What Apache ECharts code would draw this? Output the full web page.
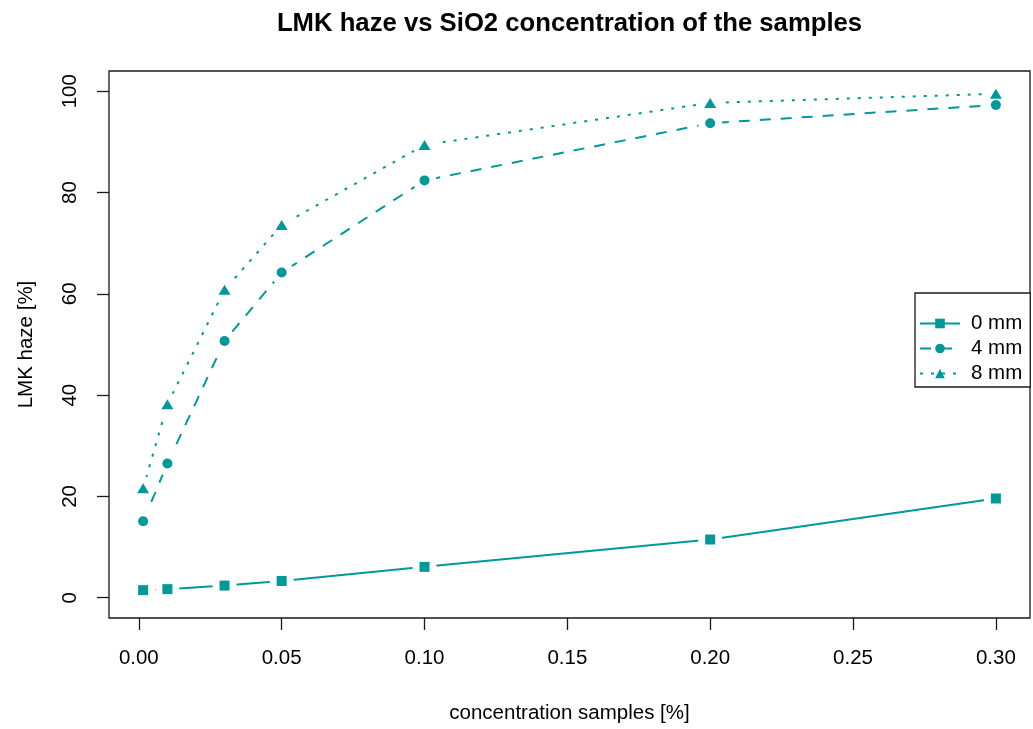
<!DOCTYPE html>
<html>
<head>
<meta charset="utf-8">
<title>LMK haze vs SiO2 concentration</title>
<script src="https://cdn.jsdelivr.net/npm/echarts@6/dist/echarts.min.js"></script>
<style>
  html, body { margin: 0; padding: 0; background: #fff; }
  #chart { width: 1033px; height: 729px; }
</style>
</head>
<body>
<div id="chart"></div>
<script>
// SiO2 concentration of each sample [%]
const concentration = [0.0015, 0.01, 0.03, 0.05, 0.10, 0.20, 0.30];
// LMK haze [%] measured at three sample thicknesses
const haze0mm = [1.5, 1.7, 2.4, 3.3, 6.1, 11.5, 19.6];
const haze4mm = [15.1, 26.5, 50.7, 64.2, 82.4, 93.7, 97.3];
const haze8mm = [21.6, 38.2, 60.8, 73.6, 89.4, 97.7, 99.5];
const seriesNames = ['0 mm', '4 mm', '8 mm'];
// tick positions
const xTicks = [0, 0.05, 0.10, 0.15, 0.20, 0.25, 0.30];
const yTicks = [0, 20, 40, 60, 80, 100];

const FONT = "'Liberation Sans', Arial, sans-serif";
const TEAL = '#009999';
const INK = '#1a1a1a';

// axis ranges padded 4% beyond the data, base-graphics style
const xLo = concentration[0], xHi = concentration[concentration.length - 1];
const xPad = 0.04 * (xHi - xLo);
const yLo = 0, yHi = 100, yPad = 0.04 * (yHi - yLo);

const pairs = ys => concentration.map((x, i) => [x, ys[i]]);

const groups = [
  { name: seriesNames[0], ys: haze0mm, symbol: 'rect', size: 10, dash: 'solid' },
  { name: seriesNames[1], ys: haze4mm, symbol: 'circle', size: 10, dash: [11, 10] },
  { name: seriesNames[2], ys: haze8mm, symbol: 'triangle', size: [12, 10], dash: [3, 8] }
];

// connecting lines (the symbol is kept for the legend icon)
const lineSeries = groups.map(g => ({
  name: g.name,
  type: 'line',
  data: pairs(g.ys),
  symbol: g.symbol,
  symbolSize: g.size,
  showSymbol: false,
  lineStyle: { color: TEAL, width: 2, type: g.dash },
  itemStyle: { color: TEAL, opacity: 1 },
  emphasis: { disabled: true },
  silent: true,
  z: 2
}));

// white discs that open a small gap in the line around every point
const haloSeries = groups.map(g => ({
  name: g.name + ' gap',
  type: 'scatter',
  data: pairs(g.ys),
  symbol: 'circle',
  symbolSize: 24,
  itemStyle: { color: '#fff', opacity: 1 },
  emphasis: { disabled: true },
  silent: true,
  z: 3
}));

// the plotted points
const pointSeries = groups.map(g => ({
  name: g.name + ' points',
  type: 'scatter',
  data: pairs(g.ys),
  symbol: g.symbol,
  symbolSize: g.size,
  itemStyle: { color: TEAL, opacity: 1 },
  emphasis: { disabled: true },
  silent: true,
  z: 4
}));

const axisText = { fontFamily: FONT, fontSize: 20.5, color: '#000' };

const chart = echarts.init(document.getElementById('chart'), null, { renderer: 'canvas' });
chart.setOption({
  backgroundColor: '#fff',
  animation: false,
  title: {
    text: 'LMK haze vs SiO2 concentration of the samples',
    left: 564.5,
    textAlign: 'center',
    top: 6,
    textStyle: { fontFamily: FONT, fontSize: 25.7, fontWeight: 'bold', color: '#000' }
  },
  grid: {
    left: 109, top: 71, width: 921, height: 547,
    show: true, borderColor: INK, borderWidth: 1.3, backgroundColor: 'transparent'
  },
  legend: {
    orient: 'vertical',
    left: 915, top: 293,
    data: seriesNames,
    itemWidth: 40, itemHeight: 12, itemGap: 4,
    padding: [20, 8, 3, 4],
    borderColor: INK, borderWidth: 1.3,
    backgroundColor: '#fff',
    textStyle: { fontFamily: FONT, fontSize: 20.5, color: '#000', padding: [0, 0, 0, 6] }
  },
  xAxis: {
    type: 'value',
    min: xLo - xPad, max: xHi + xPad,
    name: 'concentration samples [%]',
    nameLocation: 'middle', nameGap: 85, nameMoveOverlap: false,
    nameTextStyle: axisText,
    axisLine: { show: false, onZero: false },
    splitLine: { show: false },
    axisTick: { show: true, inside: false, length: 12, customValues: xTicks,
                lineStyle: { color: INK, width: 1.3 } },
    axisLabel: Object.assign({ customValues: xTicks, margin: 30, formatter: v => v.toFixed(2) }, axisText)
  },
  yAxis: {
    type: 'value',
    min: yLo - yPad, max: yHi + yPad,
    name: 'LMK haze [%]',
    nameLocation: 'middle', nameGap: 72, nameRotate: 90, nameMoveOverlap: false,
    nameTextStyle: axisText,
    axisLine: { show: false, onZero: false },
    splitLine: { show: false },
    axisTick: { show: true, inside: false, length: 12, customValues: yTicks,
                lineStyle: { color: INK, width: 1.3 } },
    axisLabel: Object.assign({ customValues: yTicks, rotate: 90, margin: 28 }, axisText)
  },
  series: lineSeries.concat(haloSeries, pointSeries)
});
</script>
</body>
</html>
